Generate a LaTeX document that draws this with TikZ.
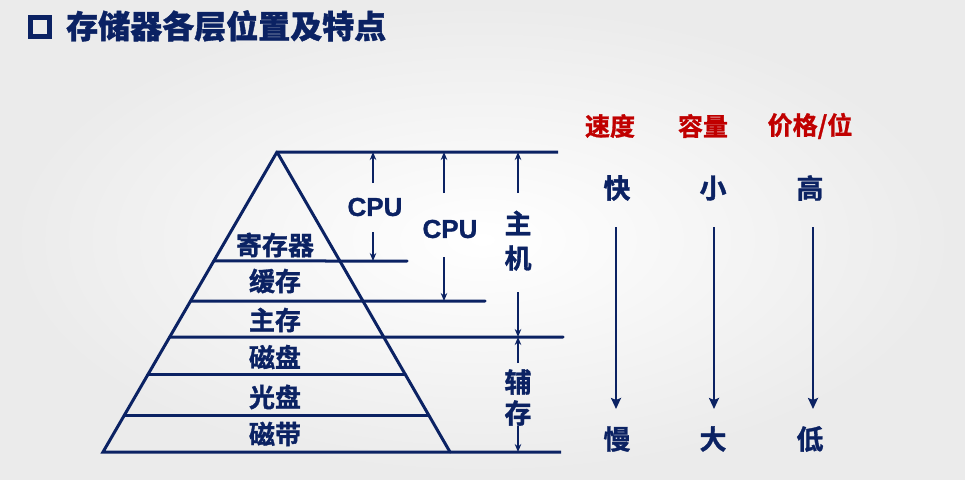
\documentclass[tikz,border=0pt]{standalone}
\usepackage{fontspec}
\setmainfont{Liberation Sans}
\newfontfamily\cjk[FakeBold=1.2]{Noto Sans CJK SC Bold}
\newfontfamily\cjkh[FakeBold=1.2]{Noto Sans CJK SC Black}
\newfontfamily\latb[FakeBold=1]{Liberation Sans Bold}
\usetikzlibrary{arrows.meta,calc}
\definecolor{navy}{HTML}{0B2263}
\definecolor{hred}{HTML}{C00000}
\begin{document}
\begin{tikzpicture}[x=1pt,y=-1pt,
  lyr/.style={line width=3pt, draw=navy, line cap=round},
  sarr/.style={line width=2.4pt, draw=navy, -{Stealth[length=8pt,width=6.5pt]}},
  barr/.style={line width=2.6pt, draw=navy, -{Stealth[length=11pt,width=10pt,inset=2pt]}},
  lbl/.style={text=navy, font=\cjk\fontsize{26}{26}\selectfont, inner sep=0pt},
  cpu/.style={text=navy, font=\latb\fontsize{26}{26}\selectfont, inner sep=0pt},
  hdr/.style={text=hred, font=\cjk\fontsize{25}{25}\selectfont, inner sep=0pt},
  vtxt/.style={text=navy, font=\cjk\fontsize{27}{27}\selectfont, inner sep=0pt}
]
\shade[inner color=white, outer color=black!8] (0,0) rectangle (965,479);
\useasboundingbox (0,0) rectangle (965,479);

% title
\node[draw=navy, line width=4.5pt, minimum size=19pt, inner sep=0pt] (sq) at (40,27) {};
\node[anchor=west, text=navy, font=\cjkh\fontsize{32}{32}\selectfont, inner sep=0pt] (title) at (66,26) {存储器各层位置及特点};

% pyramid
\coordinate (apex) at (277,152);
\coordinate (bl) at (103,452);
\coordinate (br) at (450,452);
\coordinate (topR) at (558,152);
\coordinate (baseR) at (561,452);
\draw[lyr, line join=miter, line cap=butt] (topR) -- (apex) -- (bl) -- (baseR);
\draw[lyr] (apex) -- (br);

\coordinate (l1) at ($(apex)!0.3633!(bl)$); \coordinate (r1) at (407,261);
\coordinate (l2) at ($(apex)!0.4967!(bl)$); \coordinate (r2) at (485,301);
\coordinate (l3) at ($(apex)!0.6167!(bl)$); \coordinate (r3) at (563,337);
\coordinate (l4) at ($(apex)!0.7433!(bl)$); \coordinate (r4) at ($(apex)!0.7433!(br)$);
\coordinate (l5) at ($(apex)!0.8767!(bl)$); \coordinate (r5) at ($(apex)!0.8767!(br)$);
\draw[lyr] (l1) -- (r1);
\draw[lyr] (l2) -- (r2);
\draw[lyr] (l3) -- (r3);
\draw[lyr] (l4) -- (r4);
\draw[lyr] (l5) -- (r5);

% layer labels
\node[lbl] (reg) at (275,245) {寄存器};
\node[lbl] (cache) at (275,281) {缓存};
\node[lbl] (mem) at (275,320) {主存};
\node[lbl] (disk) at (275,357) {磁盘};
\node[lbl] (cd) at (275,397) {光盘};
\node[lbl] (tape) at (275,434) {磁带};

% CPU 1
\node[cpu] (cpu1) at (375,207) {CPU};
\coordinate (a1t) at (373,152); \coordinate (a1u) at (373,183);
\coordinate (a1d) at (373,232); \coordinate (a1b) at (373,261);
\draw[sarr] (a1u) -- (a1t);
\draw[sarr] (a1d) -- (a1b);

% CPU 2
\node[cpu] (cpu2) at (450,229) {CPU};
\coordinate (a2t) at (444,152); \coordinate (a2u) at (444,193);
\coordinate (a2d) at (444,257); \coordinate (a2b) at (444,301);
\draw[sarr] (a2u) -- (a2t);
\draw[sarr] (a2d) -- (a2b);

% host
\node[vtxt] (zhu) at (518,223) {主};
\node[vtxt] (ji) at (518,258) {机};
\coordinate (a3t) at (518,152); \coordinate (a3u) at (518,193);
\coordinate (a3d) at (518,292); \coordinate (a3b) at (518,337);
\draw[sarr] (a3u) -- (a3t);
\draw[sarr] (a3d) -- (a3b);

% auxiliary
\node[vtxt] (fu) at (518,382) {辅};
\node[vtxt] (cun) at (518,413) {存};
\coordinate (a4t) at (518,337); \coordinate (a4u) at (518,363);
\coordinate (a4d) at (518,426); \coordinate (a4b) at (518,452);
\draw[sarr] (a4u) -- (a4t);
\draw[sarr] (a4d) -- (a4b);

% headers
\node[hdr] (h1) at (610,126) {速度};
\node[hdr] (h2) at (703,126) {容量};
\node[hdr] (h3) at (810,126) {价格/位};

\node[vtxt] (fast) at (617,188) {快};
\node[vtxt] (small) at (713,188) {小};
\node[vtxt] (high) at (810,188) {高};
\node[vtxt] (slow) at (617,439) {慢};
\node[vtxt] (big) at (713,439) {大};
\node[vtxt] (low) at (810,439) {低};

\coordinate (s1) at (616,227); \coordinate (e1) at (616,409);
\coordinate (s2) at (714,227); \coordinate (e2) at (714,409);
\coordinate (s3) at (813,227); \coordinate (e3) at (813,409);
\draw[barr] (s1) -- (e1);
\draw[barr] (s2) -- (e2);
\draw[barr] (s3) -- (e3);
\end{tikzpicture}
\end{document}
